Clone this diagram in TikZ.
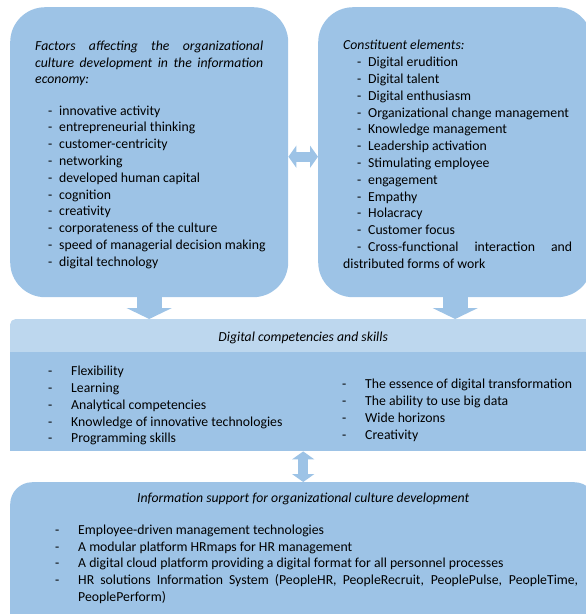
\documentclass[tikz,border=0pt]{standalone}
\usepackage{fontspec}
\setmainfont{Carlito}
\usepackage{tikz}
\usetikzlibrary{arrows.meta,positioning}
\definecolor{panelblue}{HTML}{9DC3E6}
\definecolor{bandblue}{HTML}{BDD7EE}
\hyphenpenalty=10000
\exhyphenpenalty=10000
% dash in front of a list entry
\newcommand{\itm}[1][11pt]{\makebox[#1][l]{-}}
\tikzset{
  panel/.style={fill=panelblue,rounded corners=35pt,inner sep=0pt,anchor=north west},
  bandbox/.style={fill=bandblue,rounded corners=5pt,inner sep=0pt,anchor=north west,
    font=\fontsize{13.75pt}{16.8pt}\selectfont},
  bodybox/.style={fill=panelblue,inner sep=0pt,anchor=north west},
  txt/.style={inner sep=0pt,font=\fontsize{13.75pt}{16.8pt}\selectfont,execute at begin node=\strut},
  listtext/.style={txt,align=left},
  downarrow/.style={draw=panelblue,line width=25pt,-{Triangle[width=45pt,length=11pt]}},
  bothways/.style={draw=panelblue,line width=10pt,
    {Triangle[width=22pt,length=8pt]}-{Triangle[width=22pt,length=8pt]}}
}

\begin{document}
\begin{tikzpicture}[x=1pt,y=-1pt]
  \path[use as bounding box,clip] (0,0) rectangle (586,614);

  % upper row: factors and elements
  \node[panel,minimum width=278pt,minimum height=290pt] (factors) at (10,7) {};
  \node[panel,minimum width=274pt,minimum height=290pt] (elements) at (318,7) {};
  \node[txt,text width=228pt,align=justify,below right=31.4pt and 25pt of factors.north west] (factorshead)
    {\itshape Factors affecting the organizational\linebreak culture development in the information\linebreak economy:};
  \node[listtext,below right=98.4pt and 38pt of factors.north west] (factorslist) {%
    \itm innovative activity\\
    \itm entrepreneurial thinking\\
    \itm customer-centricity\\
    \itm networking\\
    \itm developed human capital\\
    \itm cognition\\
    \itm creativity\\
    \itm corporateness of the culture\\
    \itm speed of managerial decision making\\
    \itm digital technology};
  \node[txt,text width=229pt,align=justify,below right=31pt and 25pt of elements.north west] (elementslist) {%
    \textit{Constituent elements:}\\
    \hspace*{14pt}\itm Digital erudition\\
    \hspace*{14pt}\itm Digital talent\\
    \hspace*{14pt}\itm Digital enthusiasm\\
    \hspace*{14pt}\itm Organizational change management\\
    \hspace*{14pt}\itm Knowledge management\\
    \hspace*{14pt}\itm Leadership activation\\
    \hspace*{14pt}\itm Stimulating employee\\
    \hspace*{14pt}\itm engagement\\
    \hspace*{14pt}\itm Empathy\\
    \hspace*{14pt}\itm Holacracy\\
    \hspace*{14pt}\itm Customer focus\\
    \hspace*{14pt}\itm Cross-functional interaction and distributed forms of work};

  % middle block: competencies
  \node[bandbox,minimum width=586pt,minimum height=38pt] (skillshead) at (10,319)
    {\textit{Digital competencies and skills}};
  \node[bodybox,minimum width=586pt,minimum height=99pt] (skillsbody) at (10,352) {};
  \node[listtext,below right=13.9pt and 38pt of skillsbody.north west] (skillsleft) {%
    \itm[23pt]Flexibility\\
    \itm[23pt]Learning\\
    \itm[23pt]Analytical competencies\\
    \itm[23pt]Knowledge of innovative technologies\\
    \itm[23pt]Programming skills};
  \node[listtext,below right=26.9pt and 332pt of skillsbody.north west] (skillsright) {%
    \itm[23pt]The essence of digital transformation\\
    \itm[23pt]The ability to use big data\\
    \itm[23pt]Wide horizons\\
    \itm[23pt]Creativity};

  % lower block: information support
  \node[panel,rounded corners=22pt,minimum width=586pt,minimum height=160pt] (support) at (10,482) {};
  \node[txt,below=8.7pt of support.north] (supporthead)
    {\itshape Information support for organizational culture development};
  \node[listtext,below right=42.6pt and 45pt of support.north west] (supportlist) {%
    \itm[23pt]Employee-driven management technologies\\
    \itm[23pt]A modular platform HRmaps for HR management\\
    \itm[23pt]A digital cloud platform providing a digital format for all personnel processes\\
    \itm[23pt]\parbox[t]{500pt}{HR solutions Information System (PeopleHR, PeopleRecruit, PeoplePulse, PeopleTime, PeoplePerform)}};

  % block arrows
  \draw[downarrow] (factors.south) -- (factors.south |- skillshead.north);
  \draw[downarrow] (elements.south) -- (elements.south |- skillshead.north);
  \draw[bothways] ([yshift=-4.5pt]factors.east) -- ([yshift=-4.5pt]elements.west);
  \draw[bothways] (skillsbody.south) -- (support.north);
\end{tikzpicture}
\end{document}
